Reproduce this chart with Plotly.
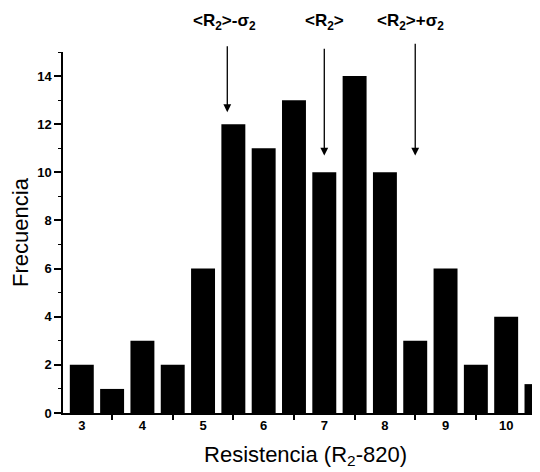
import plotly.graph_objects as go

# Data
bin_centers = [3, 3.5, 4, 4.5, 5, 5.5, 6, 6.5, 7, 7.5, 8, 8.5, 9, 9.5, 10, 10.5]
counts = [2, 1, 3, 2, 6, 12, 11, 13, 10, 14, 10, 3, 6, 2, 4, 1.2]
x_tick_vals = [3, 4, 5, 6, 7, 8, 9, 10]
y_tick_vals = [0, 2, 4, 6, 8, 10, 12, 14]
marker_labels = ["&lt;R<sub>2</sub>&gt;-σ<sub>2</sub>", "&lt;R<sub>2</sub>&gt;", "&lt;R<sub>2</sub>&gt;+σ<sub>2</sub>"]
marker_x = [5.4, 7.0, 8.5]
marker_label_x = [5.36, 7.0, 8.43]
marker_tip_y = [12.5, 10.7, 10.7]
marker_tail_y = [15.3, 15.2, 15.4]

font_family = "Liberation Sans, Arial, sans-serif"

fig = go.Figure()
fig.add_trace(go.Bar(x=bin_centers, y=counts, marker=dict(color="black", line=dict(width=0)),
                     showlegend=False))

for lx, tx, tip, tail, lab in zip(marker_label_x, marker_x, marker_tip_y, marker_tail_y, marker_labels):
    fig.add_annotation(x=tx, y=tip, ax=tx, ay=tail, xref="x", yref="y", axref="x", ayref="y",
                       showarrow=True, arrowhead=2, arrowsize=1.2, arrowwidth=1.3,
                       arrowcolor="black", text="")
    fig.add_annotation(x=lx, y=1.083, xref="x", yref="paper", text="<b>" + lab + "</b>",
                       showarrow=False, font=dict(family=font_family, size=17, color="black"),
                       yanchor="middle")

fig.update_layout(
    width=540, height=472,
    margin=dict(l=55, r=0, t=44, b=67, autoexpand=False),
    plot_bgcolor="white", paper_bgcolor="white",
    bargap=0.21,
    font=dict(family=font_family, color="black"),
)
fig.update_xaxes(
    range=[2.69, 10.69], tickmode="array", tickvals=x_tick_vals,
    ticktext=["<b>%d</b>" % v for v in x_tick_vals], ticks="",
    tickfont=dict(size=13), showgrid=False, zeroline=False, automargin=False,
    showline=True, linecolor="black", linewidth=1.5,
    minor=dict(tickmode="array", tickvals=[v + 0.5 for v in x_tick_vals],
               ticks="outside", ticklen=5, tickcolor="black", tickwidth=1.5, showgrid=False),
    title=dict(text="Resistencia (R<sub>2</sub>-820)", font=dict(size=22), standoff=14),
)
fig.update_yaxes(
    range=[0, 15], tickmode="array", tickvals=y_tick_vals,
    ticktext=["<b>%d</b>" % v for v in y_tick_vals], ticks="outside", ticklen=7,
    tickcolor="black", tickwidth=1.5, tickfont=dict(size=13), automargin=False,
    showgrid=False, zeroline=False, showline=True, linecolor="black", linewidth=1.5,
    minor=dict(tickmode="array", tickvals=[1, 3, 5, 7, 9, 11, 13, 15], ticks="outside",
               ticklen=3, tickcolor="black", tickwidth=1, showgrid=False),
    title=dict(text="Frecuencia", font=dict(size=22), standoff=10),
)

fig.write_html("out.html")
